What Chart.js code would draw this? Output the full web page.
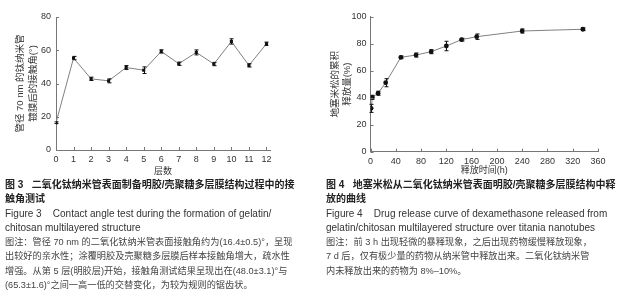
<!DOCTYPE html>
<html>
<head>
<meta charset="utf-8">
<script src="https://cdn.jsdelivr.net/npm/chart.js@4.4.1/dist/chart.umd.min.js"></script>
<style>
  body { margin: 0; background: #fff; width: 625px; height: 300px; overflow: hidden; position: relative;
         font-family: 'Liberation Sans', 'Noto Sans CJK SC', sans-serif; }
  #chart-angle { position: absolute; left: 0; top: 0; }
  #chart-release { position: absolute; left: 310px; top: 0; }
  .cap { position: absolute; top: 178px; font-size: 10px; line-height: 14.3px; color: #333; white-space: nowrap; }
  .cap .t { font-weight: bold; color: #222; }
  .cap .n { font-size: 9.2px; color: #444; }
</style>
</head>
<body>
<canvas id="chart-angle" width="310" height="180"></canvas>
<canvas id="chart-release" width="315" height="180"></canvas>

<div class="cap" style="left:5px">
  <div class="t">图 3&nbsp;&nbsp;&nbsp;二氧化钛纳米管表面制备明胶/壳聚糖多层膜结构过程中的接</div>
  <div class="t">触角测试</div>
  <div>Figure 3&nbsp;&nbsp;&nbsp; Contact angle test during the formation of gelatin/</div>
  <div>chitosan multilayered structure</div>
  <div class="n">图注：管径 70 nm 的二氧化钛纳米管表面接触角约为(16.4±0.5)°，呈现</div>
  <div class="n">出较好的亲水性；涂覆明胶及壳聚糖多层膜后样本接触角增大，疏水性</div>
  <div class="n">增强。从第 5 层(明胶层)开始，接触角测试结果呈现出在(48.0±3.1)°与</div>
  <div class="n">(65.3±1.6)°之间一高一低的交替变化，为较为规则的锯齿状。</div>
</div>
<div class="cap" style="left:326px">
  <div class="t">图 4&nbsp;&nbsp;&nbsp;地塞米松从二氧化钛纳米管表面明胶/壳聚糖多层膜结构中释</div>
  <div class="t">放的曲线</div>
  <div>Figure 4&nbsp;&nbsp;&nbsp; Drug release curve of dexamethasone released from</div>
  <div>gelatin/chitosan multilayered structure over titania nanotubes</div>
  <div class="n">图注：前 3 h 出现轻微的暴释现象，之后出现药物缓慢释放现象，</div>
  <div class="n">7 d 后，仅有极少量的药物从纳米管中释放出来。二氧化钛纳米管</div>
  <div class="n">内未释放出来的药物为 8%–10%。</div>
</div>

<script>
// Figure 3: contact angle vs layer count
const layers = [0, 1, 2, 3, 4, 5, 6, 7, 8, 9, 10, 11, 12];
const contactAngle = [16.4, 55.3, 42.8, 41.6, 49.6, 48.0, 59.3, 51.9, 58.7, 51.7, 65.3, 50.9, 63.9];
const contactErr = [0.5, 1, 1, 1.2, 1.2, 2, 1, 1, 1.5, 1, 1.6, 1, 1];
const layerTicks = [0, 1, 2, 3, 4, 5, 6, 7, 8, 9, 10, 11, 12];
const angleTicks = [0, 20, 40, 60, 80];

// Figure 4: cumulative dexamethasone release
const releaseHours = [1, 3, 12, 24, 48, 72, 96, 120, 144, 168, 240, 336];
const releasePct = [32.1, 40.3, 43.3, 51.1, 69.9, 71.6, 74.1, 78.3, 83.0, 85.2, 89.4, 90.7];
const releaseErr = [3, 1.5, 1.5, 3, 1, 1.5, 1.5, 3.5, 1, 2, 1.5, 1];
const hourTicks = [0, 40, 80, 120, 160, 200, 240, 280, 320, 360];
const pctTicks = [0, 20, 40, 60, 80, 100];

const FONT = "'Liberation Sans', 'Noto Sans CJK SC', sans-serif";
const AXIS = '#777';

// error bars + inward tick marks, drawn through the chart's own scales
const errorBars = {
  id: 'errorBars',
  afterDatasetsDraw(chart, args, opts) {
    const { ctx, scales: { x, y } } = chart;
    ctx.save();
    ctx.strokeStyle = '#111';
    ctx.lineWidth = 1;
    chart.data.datasets[0].data.forEach((p, i) => {
      const e = opts.errors[i];
      const px = Math.round(x.getPixelForValue(p.x)) + 0.5;
      const top = y.getPixelForValue(p.y + e);
      const bot = y.getPixelForValue(p.y - e);
      ctx.beginPath();
      ctx.moveTo(px, top); ctx.lineTo(px, bot);
      ctx.moveTo(px - 2, top); ctx.lineTo(px + 2, top);
      ctx.moveTo(px - 2, bot); ctx.lineTo(px + 2, bot);
      ctx.stroke();
    });
    ctx.restore();
  },
  afterDraw(chart) {
    const { ctx, chartArea, scales: { x, y } } = chart;
    ctx.save();
    ctx.strokeStyle = AXIS;
    ctx.lineWidth = 1;
    ctx.beginPath();
    x.ticks.forEach(t => {
      const px = Math.round(x.getPixelForValue(t.value)) + 0.5;
      ctx.moveTo(px, chartArea.bottom); ctx.lineTo(px, chartArea.bottom - 3);
    });
    y.ticks.forEach(t => {
      const py = Math.round(y.getPixelForValue(t.value)) + 0.5;
      ctx.moveTo(chartArea.left, py); ctx.lineTo(chartArea.left + 3, py);
    });
    ctx.stroke();
    ctx.restore();
  }
};

function makeChart(id, cfg) {
  const ctx = document.getElementById(id).getContext('2d');
  return new Chart(ctx, {
    type: 'line',
    data: {
      datasets: [{
        data: cfg.xs.map((v, i) => ({ x: v, y: cfg.ys[i] })),
        borderColor: '#808080',
        borderWidth: 1,
        pointStyle: cfg.pointStyle,
        pointRadius: cfg.pointRadius,
        pointBackgroundColor: '#111',
        pointBorderColor: '#111',
        pointBorderWidth: 0,
        tension: 0
      }]
    },
    options: {
      responsive: false,
      animation: false,
      layout: { padding: cfg.padding },
      plugins: {
        legend: { display: false },
        tooltip: { enabled: false },
        errorBars: { errors: cfg.errors }
      },
      scales: {
        x: {
          type: 'linear',
          min: cfg.xMin,
          max: cfg.xMax,
          afterBuildTicks: s => { s.ticks = cfg.xTicks.map(v => ({ value: v })); },
          afterFit: s => { s.height = cfg.xHeight; },
          grid: { display: false, drawTicks: false },
          border: { color: AXIS, width: 1 },
          ticks: { color: '#333', padding: 4, maxRotation: 0, autoSkip: false, font: { family: FONT, size: 9 } },
          title: { display: true, text: cfg.xTitle, color: '#333', padding: { top: 0, bottom: cfg.xTitlePad },
                   font: { family: FONT, size: 9, lineHeight: 1.3 } }
        },
        y: {
          min: cfg.yMin,
          max: cfg.yMax,
          afterBuildTicks: s => { s.ticks = cfg.yTicks.map(v => ({ value: v })); },
          afterFit: s => { s.width = cfg.yWidth; },
          grid: { display: false, drawTicks: false },
          border: { color: AXIS, width: 1 },
          ticks: { color: '#333', padding: cfg.yTickPad, font: { family: FONT, size: 9 } },
          title: { display: true, text: cfg.yTitle, color: '#333', padding: { top: cfg.yTitlePad, bottom: 0 },
                   font: { family: FONT, size: 9.5, lineHeight: 1.3 } }
        }
      }
    },
    plugins: [errorBars]
  });
}

makeChart('chart-angle', {
  xs: layers, ys: contactAngle, errors: contactErr,
  xTicks: layerTicks, yTicks: angleTicks,
  xMin: 0, xMax: 12.2, yMin: 0, yMax: 80,
  pointStyle: 'rect', pointRadius: 2.2,
  padding: { top: 17, right: 40, left: 0, bottom: 0 },
  xHeight: 30, yWidth: 56, yTickPad: 5,
  xTitle: '层数', xTitlePad: 3,
  yTitle: ['管径 70 nm 的钛纳米管', '镀膜后的接触角(°)'], yTitlePad: 14.5
});

makeChart('chart-release', {
  xs: releaseHours, ys: releasePct, errors: releaseErr,
  xTicks: hourTicks, yTicks: pctTicks,
  xMin: 0, xMax: 360, yMin: 0, yMax: 100,
  pointStyle: 'circle', pointRadius: 2.4,
  padding: { top: 16.7, right: 27, left: 0, bottom: 0 },
  xHeight: 28.3, yWidth: 60.5, yTickPad: 4,
  xTitle: '释放时间(h)', xTitlePad: 4,
  yTitle: ['地塞米松的累积', '释放量(%)'], yTitlePad: 18.8
});
</script>
</body>
</html>
